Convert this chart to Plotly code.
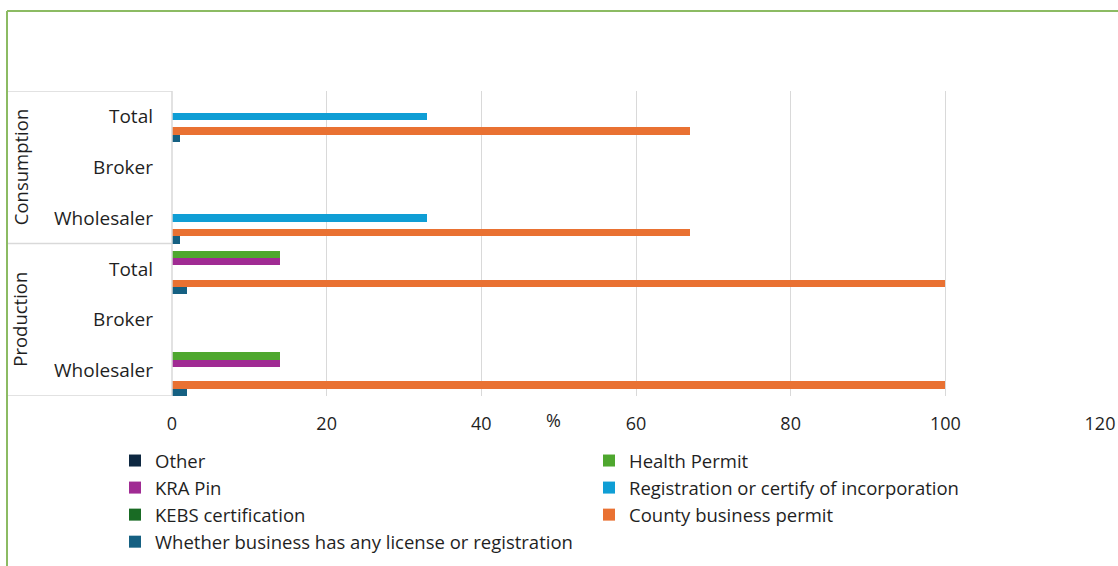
import plotly.graph_objects as go

# ---- data ----
groups = ["Production", "Production", "Production", "Consumption", "Consumption", "Consumption"]
subcats = ["Wholesaler", "Broker", "Total", "Wholesaler", "Broker", "Total"]
series_names = [
    "Whether business has any license or registration",
    "County business permit",
    "KEBS certification",
    "Registration or certify of incorporation",
    "KRA Pin",
    "Health Permit",
    "Other",
]
series_values = {
    "Whether business has any license or registration": [2, 0, 2, 1, 0, 1],
    "County business permit": [100, 0, 100, 67, 0, 67],
    "KEBS certification": [0, 0, 0, 0, 0, 0],
    "Registration or certify of incorporation": [0, 0, 0, 33, 0, 33],
    "KRA Pin": [14, 0, 14, 0, 0, 0],
    "Health Permit": [14, 0, 14, 0, 0, 0],
    "Other": [0, 0, 0, 0, 0, 0],
}
x_ticks = [0, 20, 40, 60, 80, 100, 120]

colors = {
    "Other": "#0e2841",
    "Health Permit": "#4ea72e",
    "KRA Pin": "#a02b93",
    "Registration or certify of incorporation": "#0f9ed5",
    "KEBS certification": "#196b24",
    "County business permit": "#e97132",
    "Whether business has any license or registration": "#156082",
}

FONT = "Open Sans"
TXT = "#1f1f1f"
ycats = [f"{g}|{s}" for g, s in zip(groups, subcats)]

fig = go.Figure()
for name in series_names:
    fig.add_trace(go.Bar(
        y=ycats, x=series_values[name], name=name, orientation="h",
        marker=dict(color=colors[name], line=dict(width=0)),
    ))

W, H = 1118, 566
ml, mr, mt, mb = 172, 18, 91, 170
pw, ph = W - ml - mr, H - mt - mb

def px(xp):
    return (xp - ml) / pw

def py(yp):
    return (H - mb - yp) / ph

line_col = "#d9d9d9"
shapes = []
for yv in [-0.5, 2.5, 5.5]:
    shapes.append(dict(type="line", xref="paper", yref="y", x0=px(8), x1=0, y0=yv, y1=yv,
                       line=dict(color=line_col, width=1.5)))
shapes.append(dict(type="line", xref="paper", yref="y", x0=0, x1=0, y0=-0.5, y1=5.5,
                   line=dict(color=line_col, width=1.5)))
# green frame
green = "#8cbb63"
shapes.append(dict(type="line", xref="paper", yref="paper", x0=px(7), x1=px(7), y0=py(570), y1=py(11),
                   line=dict(color=green, width=2)))
shapes.append(dict(type="line", xref="paper", yref="paper", x0=px(7), x1=px(1120), y0=py(11), y1=py(11),
                   line=dict(color=green, width=2)))

annotations = [
    dict(text="Consumption", xref="paper", yref="y", x=px(20), y=4, showarrow=False,
         xanchor="center", yanchor="middle",
         textangle=-90, font=dict(family=FONT, size=18.5, color=TXT)),
    dict(text="Production", xref="paper", yref="y", x=px(20), y=1, showarrow=False,
         xanchor="center", yanchor="middle",
         textangle=-90, font=dict(family=FONT, size=18.5, color=TXT)),
    dict(text="%", xref="paper", yref="paper", x=px(553), y=py(420), showarrow=False,
         xanchor="center", yanchor="middle",
         font=dict(family=FONT, size=18, color=TXT)),
]

fig.update_layout(
    width=W, height=H,
    margin=dict(l=ml, r=mr, t=mt, b=mb, autoexpand=False),
    paper_bgcolor="white", plot_bgcolor="white",
    barmode="group", bargap=0.0, bargroupgap=0.0,
    font=dict(family=FONT, size=18, color=TXT),
    shapes=shapes, annotations=annotations,
    showlegend=True,
    legend=dict(orientation="h", traceorder="reversed", x=px(115), xanchor="left",
                y=py(442), yanchor="top", entrywidth=429, entrywidthmode="pixels",
                font=dict(family=FONT, size=18.5, color=TXT), bgcolor="rgba(0,0,0,0)"),
)
fig.update_xaxes(range=[0, 120], tickvals=x_ticks, showgrid=True, gridcolor=line_col, gridwidth=1,
                 zeroline=False, showline=False, ticks="", ticklabelstandoff=15,
                 tickfont=dict(family=FONT, size=18, color=TXT), fixedrange=True)
fig.update_yaxes(type="category", categoryorder="array", categoryarray=ycats,
                 tickvals=ycats, ticktext=subcats, range=[-0.5, 5.5],
                 showgrid=False, zeroline=False, showline=False, ticks="", ticklabelstandoff=18,
                 tickfont=dict(family=FONT, size=19, color=TXT), fixedrange=True)

fig.write_html("out.html", config={"displayModeBar": False},
               post_script="document.body.style.margin='0';document.body.style.overflow='hidden';")
